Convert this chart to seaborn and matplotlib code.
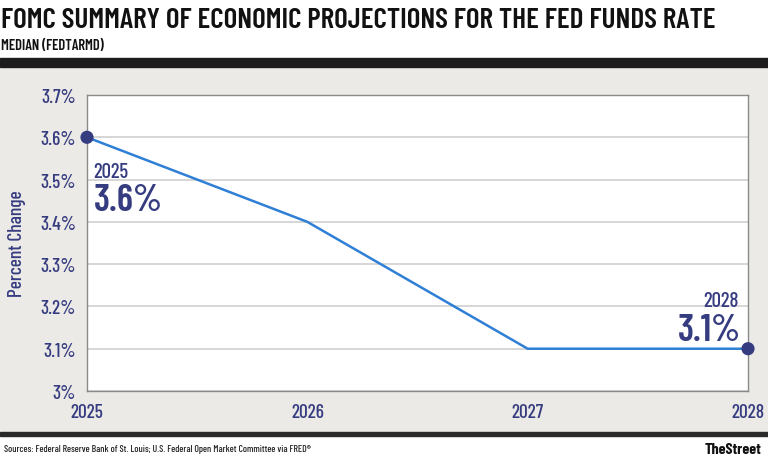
import matplotlib
matplotlib.use('Agg')
import matplotlib.pyplot as plt
import seaborn as sns
import pandas as pd

# chart data
years = [2025, 2026, 2027, 2028]
rate = [3.6, 3.4, 3.1, 3.1]
y_ticks = [3.0, 3.1, 3.2, 3.3, 3.4, 3.5, 3.6, 3.7]
y_tick_labels = ['3%', '3.1%', '3.2%', '3.3%', '3.4%', '3.5%', '3.6%', '3.7%']

NAVY = '#363c80'
LINE = '#2f7fd6'
BG = '#ebeae6'
FONTS = ['Barlow Condensed', 'Roboto Condensed', 'Liberation Sans Narrow', 'DejaVu Sans']

sns.set_theme(style='white')
plt.rcParams['font.family'] = FONTS

df = pd.DataFrame({'year': years, 'rate': rate})

fig = plt.figure(figsize=(7.68, 4.64), dpi=100)
W, H = 768, 464

def fy(py):
    return 1 - py / H

# page decoration
fig.patches.append(plt.Rectangle((0, fy(433)), 1, fy(68) - fy(433), transform=fig.transFigure,
                                 color=BG, zorder=-2))
fig.patches.append(plt.Rectangle((0, fy(68)), 1, fy(59) - fy(68), transform=fig.transFigure,
                                 color='#1c1c1c', zorder=-1))
fig.patches.append(plt.Rectangle((0, fy(437)), 1, fy(433) - fy(437), transform=fig.transFigure,
                                 color='#2a2a2a', zorder=-1))

fig.text(1 / W, fy(21), 'FOMC SUMMARY OF ECONOMIC PROJECTIONS FOR THE FED FUNDS RATE',
         fontsize=21, fontweight='semibold', color='#111111', va='center', ha='left')
fig.text(1 / W, fy(46), 'MEDIAN (FEDTARMD)', fontsize=10.5, fontweight='semibold',
         color='#111111', va='center', ha='left')
fig.text(4 / W, fy(450), 'Sources: Federal Reserve Bank of St. Louis; U.S. Federal Open Market Committee via FRED\u00ae',
         fontsize=7, fontweight='medium', color='#222222', va='center', ha='left')
fig.text(761 / W, fy(450), 'TheStreet', fontsize=11.5, fontweight='bold', color='#111111',
         va='center', ha='right')

ax = fig.add_axes([87 / W, fy(392), (748 - 87) / W, fy(96) - fy(392)])
ax.set_zorder(2)
ax.set_facecolor('white')

sns.lineplot(data=df, x='year', y='rate', ax=ax, color=LINE, linewidth=1.8, zorder=3)
ends = df.iloc[[0, -1]]
sns.scatterplot(data=ends, x='year', y='rate', ax=ax, color=NAVY, s=90, zorder=4,
                edgecolor='none', clip_on=False)

ax.set_xlim(years[0], years[-1])
ax.set_ylim(y_ticks[0], y_ticks[-1])
ax.set_yticks(y_ticks)
ax.set_yticklabels(y_tick_labels, fontweight='medium')
ax.set_xticks(years)
ax.set_xticklabels([str(y) for y in years], fontweight='medium')
ax.grid(axis='y', color='#cfcfcf', linewidth=1.2)
ax.grid(axis='x', visible=False)
for s in ax.spines.values():
    s.set_color('#8a8a8a')
    s.set_linewidth(1)
ax.tick_params(axis='both', length=0, labelsize=14, labelcolor=NAVY)
ax.tick_params(axis='y', pad=8)
ax.tick_params(axis='x', pad=9)
ax.set_xlabel('')
ax.set_ylabel('Percent Change', fontsize=14, fontweight='medium', color=NAVY)
ax.yaxis.set_label_coords(-0.092, 0.5)

# value callouts
ax.text(years[0] + 0.03, 3.52, str(years[0]), fontsize=15, fontweight='medium', color=NAVY,
        ha='left', va='center')
ax.text(years[0] + 0.03, 3.452, f'{rate[0]}%', fontsize=27, fontweight='semibold', color=NAVY,
        ha='left', va='center')
ax.text(years[-1] - 0.04, 3.213, str(years[-1]), fontsize=15, fontweight='medium', color=NAVY,
        ha='right', va='center')
ax.text(years[-1] - 0.03, 3.145, f'{rate[-1]}%', fontsize=27, fontweight='semibold', color=NAVY,
        ha='right', va='center')

fig.savefig('out.png', dpi=100)
